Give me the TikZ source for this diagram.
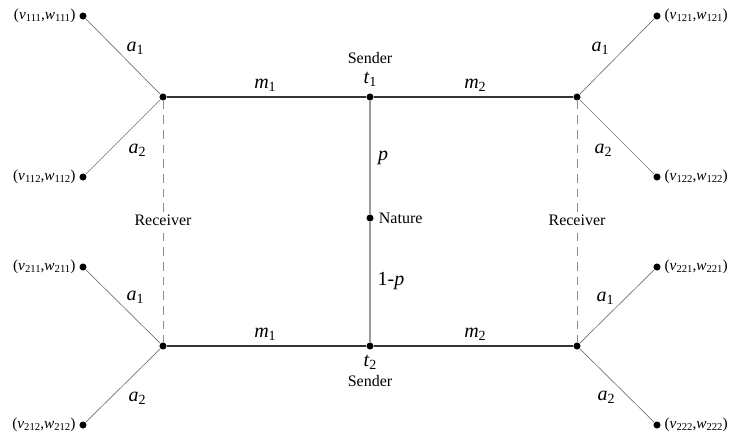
\documentclass[tikz,border=0pt]{standalone}
\usepackage{fontspec}
\setmainfont{Liberation Serif}
\usetikzlibrary{positioning}

\newcommand{\lowsub}[1]{\raisebox{-0.3ex}{\fontsize{8}{9}\selectfont #1}}
\newcommand{\pay}[1]{(\textit{v}\lowsub{#1},\textit{w}\lowsub{#1})}
\newcommand{\mlab}[2]{\textit{#1}\raisebox{-0.35ex}{\fontsize{10.5}{12}\selectfont #2}}

\begin{document}
\begin{tikzpicture}[x=0.75pt,y=-0.75pt,inner sep=0.4mm,
  dot/.style={circle,fill=black,inner sep=0pt,minimum size=5.3pt},
  move/.style={draw=black!80,line width=0.8pt},
  act/.style={draw=black!55,line width=0.5pt},
  chance/.style={draw=black!40,line width=1pt},
  info/.style={draw=black!45,line width=0.6pt,dash pattern=on 6.5pt off 4.5pt},
  lbl/.style={font=\fontsize{15}{17}\selectfont},
  txt/.style={font=\fontsize{12}{14}\selectfont},
  pay/.style={font=\fontsize{11.5}{13}\selectfont}]
\useasboundingbox (0,0) rectangle (739,435);

% nature and senders
\node [dot] (n) at (370,218) {};
\node [dot] (t1) at (370,97) {};
\node [dot] (t2) at (370,346) {};
% receivers
\node [dot] (r11) at (163,97) {};
\node [dot] (r12) at (577,97) {};
\node [dot] (r21) at (163,346) {};
\node [dot] (r22) at (577,346) {};
% end points
\node [dot] (z111) at (83,16) {};
\node [dot] (z112) at (83,177) {};
\node [dot] (z211) at (83,267) {};
\node [dot] (z212) at (83,425) {};
\node [dot] (z121) at (657,16) {};
\node [dot] (z122) at (657,177) {};
\node [dot] (z221) at (657,267) {};
\node [dot] (z222) at (657,425) {};

\draw [chance] (t1) -- (n) -- (t2);
\draw [move] (r11) -- (t1) -- (r12);
\draw [move] (r21) -- (t2) -- (r22);
\draw [info] (r11) -- (r21);
\draw [info] (r12) -- (r22);
\draw [act] (r11) -- (z111);
\draw [act] (r11) -- (z112);
\draw [act] (r21) -- (z211);
\draw [act] (r21) -- (z212);
\draw [act] (r12) -- (z121);
\draw [act] (r12) -- (z122);
\draw [act] (r22) -- (z221);
\draw [act] (r22) -- (z222);

\node [txt,fill=white] (rec1) at (163,220) {Receiver};
\node [txt,fill=white] (rec2) at (577,220) {Receiver};
\node [txt] (nat) [right=2.5pt of n] {Nature};
\node [txt] (snd1) at (370,58) {Sender};
\node [txt] (snd2) at (370,381) {Sender};

\node [lbl] (t1l) at (370,79) {\mlab{t}{1}};
\node [lbl] (t2l) at (370,362) {\mlab{t}{2}};
\node [lbl] (m11) at (265,85) {\mlab{m}{1}};
\node [lbl] (m12) at (475,85) {\mlab{m}{2}};
\node [lbl] (m21) at (265,334) {\mlab{m}{1}};
\node [lbl] (m22) at (475,334) {\mlab{m}{2}};
\node [lbl] (pl) at (383,158) {\textit{p}};
\node [lbl] (ql) at (391,281) {1-\textit{p}};

\node [lbl] (a111) at (135,48) {\mlab{a}{1}};
\node [lbl] (a112) at (137,150) {\mlab{a}{2}};
\node [lbl] (a121) at (600,48) {\mlab{a}{1}};
\node [lbl] (a122) at (603,150) {\mlab{a}{2}};
\node [lbl] (a211) at (135,297) {\mlab{a}{1}};
\node [lbl] (a212) at (137,398) {\mlab{a}{2}};
\node [lbl] (a221) at (605,298) {\mlab{a}{1}};
\node [lbl] (a222) at (606,397) {\mlab{a}{2}};

% payoffs
\node [pay] (p111) [left=1.5pt of z111] {\pay{111}};
\node [pay] (p112) [left=1.5pt of z112] {\pay{112}};
\node [pay] (p211) [left=1.5pt of z211] {\pay{211}};
\node [pay] (p212) [left=1.5pt of z212] {\pay{212}};
\node [pay] (p121) [right=1.5pt of z121] {\pay{121}};
\node [pay] (p122) [right=1.5pt of z122] {\pay{122}};
\node [pay] (p221) [right=1.5pt of z221] {\pay{221}};
\node [pay] (p222) [right=1.5pt of z222] {\pay{222}};
\end{tikzpicture}
\end{document}
